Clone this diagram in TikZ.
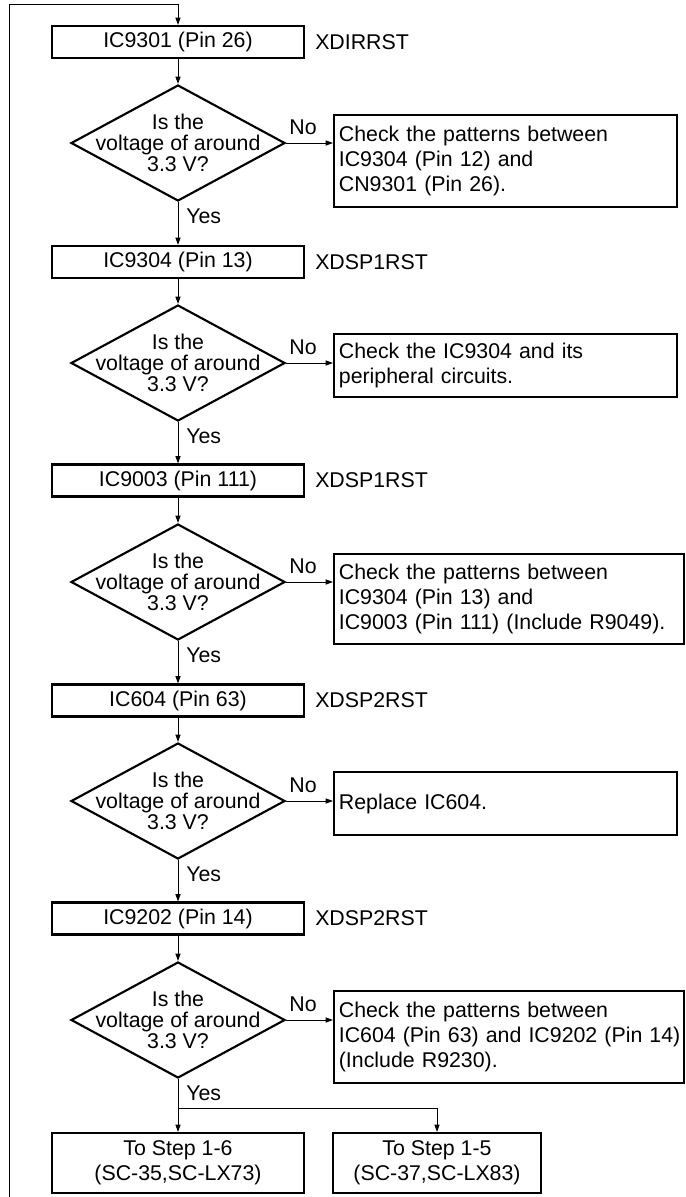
\documentclass[tikz,border=0pt]{standalone}
\usepackage{fontspec}
\setmainfont{Liberation Sans}
\usetikzlibrary{shapes.geometric,arrows.meta}
\begin{document}
\begin{tikzpicture}[x=0.75pt,y=-0.75pt,
  font=\fontsize{16}{18.75}\selectfont,
  icbox/.style={draw,line width=1.6pt,minimum width=189pt,minimum height=24pt,inner sep=0pt},
  dia/.style={draw,diamond,line width=1.6pt,minimum width=160.5pt,minimum height=87pt,inner sep=0pt},
  diatext/.style={align=center,font=\fontsize{16}{15.5}\selectfont,inner sep=0pt},
  chk/.style={draw,line width=1.6pt,anchor=north west,minimum width=257.25pt,text width=250pt,inner xsep=3.6pt,inner ysep=0pt,align=left},
  chkwide/.style={chk,text width=255pt},
  endbox/.style={draw,line width=1.6pt,minimum height=45pt,inner sep=0pt,align=center},
  sig/.style={anchor=west,inner sep=0pt},
  lab/.style={inner sep=0pt},
  yes/.style={anchor=west,inner sep=0pt},
  arr/.style={line width=0.75pt,-{Triangle[length=5.5pt,width=3.8pt]}},
  ln/.style={line width=0.75pt},
]
\useasboundingbox (0,0) rectangle (686,1197);

% main column boxes
\node[icbox] (b1) at (178,42) {IC9301 (Pin 26)};
\node[icbox] (b2) at (178,262) {IC9304 (Pin 13)};
\node[icbox] (b3) at (178,480.5) {IC9003 (Pin 111)};
\node[icbox] (b4) at (178,700.5) {IC604 (Pin 63)};
\node[icbox] (b5) at (178,918.5) {IC9202 (Pin 14)};

% signal names
\node[sig] (s1) at (315,42) {XDIRRST};
\node[sig] (s2) at (315,262) {XDSP1RST};
\node[sig] (s3) at (315,480.5) {XDSP1RST};
\node[sig] (s4) at (315,700.5) {XDSP2RST};
\node[sig] (s5) at (315,918.5) {XDSP2RST};

% diamonds
\node[dia] (d1) at (178,143) {};
\node[dia] (d2) at (178,363) {};
\node[dia] (d3) at (178,582) {};
\node[dia] (d4) at (178,801) {};
\node[dia] (d5) at (178,1020) {};
\foreach \i in {1,...,5}{
  \node[diatext] (t\i) at (d\i) {Is the\\voltage of around\\3.3 V?};
}

% check boxes
\node[chk,minimum height=69pt] (c1) at (333,114) {Check the patterns between\\IC9304 (Pin 12) and\\CN9301 (Pin 26).};
\node[chk,minimum height=47.25pt] (c2) at (333,333) {Check the IC9304 and its\\peripheral circuits.};
\node[chkwide,minimum height=67.5pt] (c3) at (333,553) {Check the patterns between\\IC9304 (Pin 13) and\\\mbox{IC9003 (Pin 111) (Include R9049).}};
\node[chk,minimum height=47.25pt] (c4) at (333,771) {Replace IC604.};
\node[chkwide,minimum height=69pt] (c5) at (333,990) {Check the patterns between\\\mbox{IC604 (Pin 63) and IC9202 (Pin 14)}\\(Include R9230).};

% end boxes
\node[endbox,minimum width=189pt] (e1) at (178,1163) {To Step 1-6\\(SC-35,SC-LX73)};
\node[endbox,minimum width=156pt] (e2) at (437,1163) {To Step 1-5\\(SC-37,SC-LX83)};

% connectors
\foreach \i in {1,...,5}{
  \draw[arr] (b\i) -- (d\i);
  \draw[arr] (d\i.east) -- (d\i.east -| c\i.west);
  \node[lab] (no\i) at ([yshift=12pt]d\i.east -| 303,0) {No};
  \node[yes] (y\i) at ([yshift=-10.5pt]d\i.south -| 186,0) {Yes};
}
\draw[arr] (d1) -- (b2);
\draw[arr] (d2) -- (b3);
\draw[arr] (d3) -- (b4);
\draw[arr] (d4) -- (b5);

\coordinate (sp) at (178,1108);
\draw[ln] (d5.south) -- (sp);
\draw[arr] (sp) -- (e1);
\draw[arr] (sp) -- (sp -| e2.north) -- (e2.north);

% loop-back line
\coordinate (lb) at (9,1197);
\coordinate (lt) at (9,4);
\draw[arr] (lb) -- (lt) -| (b1.north);
\end{tikzpicture}
\end{document}
